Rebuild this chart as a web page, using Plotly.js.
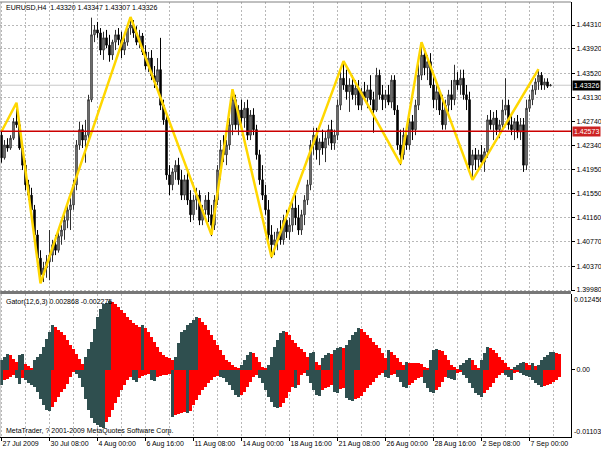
<!DOCTYPE html>
<html><head><meta charset="utf-8">
<script src="https://cdn.plot.ly/plotly-3.0.1.min.js"></script>
<style>html,body{margin:0;padding:0;background:#fff}#chart{width:601px;height:451px}</style>
</head><body><div id="chart"></div><script>
// ---- EURUSD H4 candles (bar 0 = 27 Jul 2009 16:00) ----
const barOpen = [
1.4251,1.4214,1.4235,1.4230,1.4246,1.4273,1.4268,1.4230,1.4202,1.4170,
1.4153,1.4129,1.4088,1.4050,1.4023,1.4034,1.4044,1.4055,1.4072,1.4063,
1.4086,1.4096,1.4112,1.4129,1.4137,1.4170,1.4235,1.4260,1.4243,1.4251,
1.4309,1.4415,1.4423,1.4418,1.4390,1.4410,1.4398,1.4382,1.4403,1.4415,
1.4407,1.4390,1.4403,1.4426,1.4431,1.4418,1.4403,1.4413,1.4387,1.4364,
1.4377,1.4348,1.4338,1.4358,1.4300,1.4276,1.4186,1.4170,1.4191,1.4202,
1.4178,1.4153,1.4178,1.4145,1.4121,1.4145,1.4153,1.4112,1.4129,1.4145,
1.4121,1.4104,1.4145,1.4194,1.4227,1.4219,1.4235,1.4268,1.4309,1.4268,
1.4292,1.4279,1.4295,1.4251,1.4284,1.4260,1.4219,1.4178,1.4153,1.4129,
1.4088,1.4072,1.4080,1.4093,1.4080,1.4112,1.4093,1.4104,1.4132,1.4116,
1.4096,1.4121,1.4145,1.4170,1.4235,1.4251,1.4227,1.4240,1.4230,1.4246,
1.4260,1.4238,1.4251,1.4300,1.4344,1.4333,1.4322,1.4333,1.4317,1.4328,
1.4300,1.4322,1.4312,1.4325,1.4309,1.4292,1.4349,1.4317,1.4309,1.4317,
1.4305,1.4341,1.4292,1.4235,1.4219,1.4251,1.4235,1.4273,1.4260,1.4300,
1.4349,1.4382,1.4361,1.4371,1.4333,1.4309,1.4322,1.4292,1.4268,1.4300,
1.4317,1.4309,1.4341,1.4333,1.4344,1.4317,1.4309,1.4202,1.4219,1.4211,
1.4219,1.4207,1.4224,1.4276,1.4268,1.4279,1.4260,1.4268,1.4292,1.4300,
1.4268,1.4260,1.4273,1.4256,1.4268,1.4202,1.4295,1.4309,1.4325,1.4338,
1.4349,1.4333,1.4338,1.43320];
const barHigh = [
1.4260,1.4243,1.4246,1.4251,1.4279,1.4300,1.4276,1.4235,1.4210,1.4178,
1.4165,1.4137,1.4096,1.4063,1.4044,1.4055,1.4096,1.4080,1.4088,1.4093,
1.4104,1.4121,1.4137,1.4148,1.4178,1.4243,1.4273,1.4268,1.4276,1.4317,
1.4443,1.4431,1.4436,1.4426,1.4420,1.4423,1.4415,1.4407,1.4423,1.4426,
1.4420,1.4410,1.4431,1.4444,1.4439,1.4429,1.4423,1.4418,1.4398,1.4387,
1.4390,1.4364,1.4377,1.4410,1.4309,1.4284,1.4202,1.4197,1.4210,1.4214,
1.4194,1.4186,1.4191,1.4161,1.4153,1.4165,1.4161,1.4137,1.4153,1.4158,
1.4137,1.4153,1.4202,1.4243,1.4251,1.4243,1.4279,1.4325,1.4317,1.4300,
1.4309,1.4305,1.4309,1.4292,1.4295,1.4268,1.4227,1.4202,1.4170,1.4145,
1.4104,1.4093,1.4099,1.4112,1.4121,1.4129,1.4116,1.4145,1.4153,1.4137,
1.4129,1.4153,1.4178,1.4243,1.4263,1.4263,1.4246,1.4260,1.4256,1.4268,
1.4276,1.4260,1.4309,1.4358,1.4371,1.4358,1.4344,1.4349,1.4341,1.4341,
1.4328,1.4338,1.4333,1.4349,1.4322,1.4361,1.4358,1.4333,1.4325,1.4333,
1.4349,1.4349,1.4300,1.4260,1.4263,1.4268,1.4279,1.4284,1.4309,1.4374,
1.4403,1.4393,1.4382,1.4385,1.4354,1.4333,1.4328,1.4317,1.4309,1.4325,
1.4341,1.4366,1.4354,1.4358,1.4358,1.4333,1.4322,1.4227,1.4230,1.4227,
1.4235,1.4230,1.4284,1.4292,1.4289,1.4292,1.4276,1.4309,1.4344,1.4309,
1.4284,1.4279,1.4284,1.4279,1.4279,1.4309,1.4317,1.4333,1.4344,1.4358,
1.4354,1.4344,1.4344,1.43347];
const barLow = [
1.4206,1.4211,1.4224,1.4227,1.4243,1.4263,1.4227,1.4194,1.4161,1.4145,
1.4121,1.4080,1.4039,1.4010,1.4011,1.4018,1.4014,1.4044,1.4055,1.4059,
1.4072,1.4080,1.4099,1.4096,1.4129,1.4161,1.4227,1.4230,1.4206,1.4243,
1.4305,1.4403,1.4410,1.4382,1.4374,1.4393,1.4371,1.4374,1.4390,1.4398,
1.4377,1.4382,1.4397,1.4415,1.4410,1.4398,1.4393,1.4382,1.4358,1.4354,
1.4341,1.4328,1.4333,1.4292,1.4268,1.4178,1.4153,1.4161,1.4178,1.4170,
1.4145,1.4145,1.4137,1.4109,1.4112,1.4129,1.4104,1.4104,1.4121,1.4109,
1.4086,1.4096,1.4137,1.4178,1.4207,1.4202,1.4227,1.4251,1.4260,1.4251,
1.4268,1.4263,1.4243,1.4243,1.4251,1.4211,1.4170,1.4145,1.4121,1.4080,
1.4050,1.4055,1.4063,1.4072,1.4072,1.4083,1.4080,1.4093,1.4104,1.4088,
1.4088,1.4104,1.4137,1.4161,1.4219,1.4211,1.4202,1.4219,1.4207,1.4235,
1.4227,1.4227,1.4243,1.4292,1.4325,1.4309,1.4289,1.4309,1.4300,1.4292,
1.4292,1.4309,1.4295,1.4300,1.4255,1.4289,1.4309,1.4292,1.4295,1.4300,
1.4295,1.4284,1.4227,1.4202,1.4211,1.4227,1.4227,1.4243,1.4251,1.4292,
1.4341,1.4349,1.4341,1.4328,1.4295,1.4292,1.4284,1.4260,1.4260,1.4289,
1.4292,1.4300,1.4325,1.4317,1.4309,1.4292,1.4194,1.4178,1.4194,1.4197,
1.4202,1.4191,1.4214,1.4260,1.4243,1.4251,1.4246,1.4260,1.4284,1.4260,
1.4251,1.4243,1.4246,1.4243,1.4191,1.4194,1.4289,1.4300,1.4317,1.4325,
1.4325,1.4325,1.4328,1.43307];
const barClose = [
1.4214,1.4235,1.4230,1.4246,1.4273,1.4268,1.4230,1.4202,1.4170,1.4153,
1.4129,1.4088,1.4050,1.4023,1.4034,1.4044,1.4055,1.4072,1.4063,1.4086,
1.4096,1.4112,1.4129,1.4137,1.4170,1.4235,1.4260,1.4243,1.4251,1.4309,
1.4415,1.4423,1.4418,1.4390,1.4410,1.4398,1.4382,1.4403,1.4415,1.4407,
1.4390,1.4403,1.4426,1.4431,1.4418,1.4403,1.4413,1.4387,1.4364,1.4377,
1.4348,1.4338,1.4358,1.4300,1.4276,1.4186,1.4170,1.4191,1.4202,1.4178,
1.4153,1.4178,1.4145,1.4121,1.4145,1.4153,1.4112,1.4129,1.4145,1.4121,
1.4104,1.4145,1.4194,1.4227,1.4219,1.4235,1.4268,1.4309,1.4268,1.4292,
1.4279,1.4295,1.4251,1.4284,1.4260,1.4219,1.4178,1.4153,1.4129,1.4088,
1.4072,1.4080,1.4093,1.4080,1.4112,1.4093,1.4104,1.4132,1.4116,1.4096,
1.4121,1.4145,1.4170,1.4235,1.4251,1.4227,1.4240,1.4230,1.4246,1.4260,
1.4238,1.4251,1.4300,1.4344,1.4333,1.4322,1.4333,1.4317,1.4328,1.4300,
1.4322,1.4312,1.4325,1.4309,1.4292,1.4349,1.4317,1.4309,1.4317,1.4305,
1.4341,1.4292,1.4235,1.4219,1.4251,1.4235,1.4273,1.4260,1.4300,1.4349,
1.4382,1.4361,1.4371,1.4333,1.4309,1.4322,1.4292,1.4268,1.4300,1.4317,
1.4309,1.4341,1.4333,1.4344,1.4317,1.4309,1.4202,1.4219,1.4211,1.4219,
1.4207,1.4224,1.4276,1.4268,1.4279,1.4260,1.4268,1.4292,1.4300,1.4268,
1.4260,1.4273,1.4256,1.4268,1.4202,1.4295,1.4309,1.4325,1.4338,1.4349,
1.4333,1.4338,1.4331,1.43326];

// ---- ZigZag vertices (bar index, price) ----
const zigzagBar   = [0, 5, 13, 43, 70, 77, 90, 114, 133, 140, 157, 179];
const zigzagPrice = [1.4257, 1.4304, 1.4009, 1.4444, 1.4088, 1.4326, 1.4052, 1.4372, 1.4204, 1.4403, 1.4178, 1.4359];

// ---- Gator(12,6,3) histograms ----
const gatorUpper = [
0.00164,0.00213,0.00262,0.00246,0.00180,0.00131,0.00246,0.00262,0.00098,0.00066,
0.00033,0.00164,0.00213,0.00262,0.00377,0.00508,0.00623,0.00738,0.00705,0.00656,
0.00623,0.00574,0.00492,0.00410,0.00344,0.00262,0.00180,0.00098,0.00213,0.00344,
0.00459,0.00672,0.00869,0.01000,0.01082,0.01099,0.01132,0.01115,0.01082,0.01033,
0.00984,0.00935,0.00869,0.00820,0.00771,0.00738,0.00705,0.00738,0.00689,0.00623,
0.00541,0.00459,0.00377,0.00295,0.00246,0.00213,0.00197,0.00164,0.00213,0.00443,
0.00623,0.00656,0.00738,0.00771,0.00820,0.00869,0.00853,0.00787,0.00738,0.00656,
0.00574,0.00492,0.00410,0.00328,0.00246,0.00164,0.00131,0.00082,0.00049,0.00033,
0.00082,0.00164,0.00246,0.00295,0.00279,0.00213,0.00131,0.00049,0.00033,0.00082,
0.00213,0.00377,0.00492,0.00607,0.00640,0.00623,0.00574,0.00492,0.00443,0.00377,
0.00344,0.00295,0.00213,0.00279,0.00295,0.00131,0.00082,0.00197,0.00246,0.00279,
0.00262,0.00328,0.00361,0.00377,0.00361,0.00410,0.00492,0.00574,0.00623,0.00689,
0.00672,0.00623,0.00574,0.00525,0.00459,0.00410,0.00361,0.00279,0.00197,0.00328,
0.00295,0.00246,0.00197,0.00131,0.00082,0.00131,0.00115,0.00113,0.00111,0.00108,
0.00098,0.00049,0.00033,0.00164,0.00328,0.00344,0.00328,0.00312,0.00246,0.00164,
0.00082,0.00049,0.00016,0.00082,0.00115,0.00164,0.00197,0.00164,0.00082,0.00033,
0.00164,0.00279,0.00377,0.00361,0.00328,0.00279,0.00213,0.00164,0.00115,0.00049,
0.00016,0.00049,0.00082,0.00115,0.00131,0.00115,0.00082,0.00115,0.00066,0.00082,
0.00164,0.00213,0.00246,0.002868,0.00295,0.00279,0.00262];
const gatorLower = [
-0.00246,-0.00164,-0.00148,-0.00115,-0.00082,-0.00131,-0.00230,-0.00131,-0.00164,-0.00213,
-0.00246,-0.00279,-0.00361,-0.00476,-0.00574,-0.00656,-0.00672,-0.00607,-0.00525,-0.00443,
-0.00361,-0.00312,-0.00230,-0.00115,-0.00033,-0.00066,-0.00131,-0.00279,-0.00476,-0.00656,
-0.00787,-0.00869,-0.00902,-0.00935,-0.00951,-0.00853,-0.00771,-0.00656,-0.00541,-0.00443,
-0.00328,-0.00246,-0.00164,-0.00115,-0.00164,-0.00197,-0.00131,-0.00098,-0.00082,-0.00066,
-0.00164,-0.00180,-0.00115,-0.00098,-0.00082,-0.00080,-0.00066,-0.00771,-0.00738,-0.00722,
-0.00705,-0.00689,-0.00705,-0.00672,-0.00574,-0.00492,-0.00410,-0.00328,-0.00279,-0.00213,
-0.00164,-0.00115,-0.00098,-0.00115,-0.00131,-0.00197,-0.00246,-0.00328,-0.00410,-0.00443,
-0.00410,-0.00361,-0.00279,-0.00197,-0.00115,-0.00082,-0.00131,-0.00213,-0.00328,-0.00443,
-0.00525,-0.00607,-0.00623,-0.00607,-0.00541,-0.00459,-0.00361,-0.00279,-0.00295,-0.00246,
-0.00082,-0.00049,-0.00098,-0.00213,-0.00328,-0.00410,-0.00426,-0.00328,-0.00295,-0.00279,
-0.00246,-0.00361,-0.00377,-0.00312,-0.00295,-0.00459,-0.00492,-0.00508,-0.00476,-0.00459,
-0.00426,-0.00361,-0.00295,-0.00246,-0.00197,-0.00131,-0.00082,-0.00049,-0.00115,-0.00131,
-0.00082,-0.00066,-0.00115,-0.00197,-0.00279,-0.00295,-0.00246,-0.00213,-0.00164,-0.00131,
-0.00115,-0.00213,-0.00295,-0.00361,-0.00377,-0.00328,-0.00279,-0.00197,-0.00115,-0.00131,
-0.00148,-0.00164,-0.00049,-0.00033,-0.00082,-0.00131,-0.00213,-0.00295,-0.00377,-0.00410,
-0.00443,-0.00377,-0.00328,-0.00279,-0.00213,-0.00131,-0.00082,-0.00049,-0.00082,-0.00115,
-0.00164,-0.00049,-0.00033,-0.00049,-0.00082,-0.00098,-0.00115,-0.00164,-0.00213,-0.00246,
-0.00279,-0.00262,-0.00246,-0.002275,-0.00197,-0.00164,-0.00115];

// ---- axis labels ----
const priceTicks = [1.44310,1.43920,1.43520,1.43130,1.42740,1.42340,1.41950,1.41550,1.41160,1.40770,1.40370,1.39980];
const timeLabelBars = [0,16,32,48,64,80,96,112,128,144,160,176];
const timeLabels = ['27 Jul 2009','30 Jul 08:00','4 Aug 00:00','6 Aug 16:00','11 Aug 08:00','14 Aug 00:00','18 Aug 16:00','21 Aug 08:00','26 Aug 00:00','28 Aug 16:00','2 Sep 08:00','7 Sep 00:00'];
const gridBars = [0,8,16,24,32,40,48,56,64,72,80,88,96,104,112,120,128,136,144,152,160,168,176,184];
const midGridBars = [8,24,40,56,72,88,104,120,136,152,168,184];
const levelPrice = 1.42573;
const bidPrice = 1.43326;
const gatorTop = 0.012456, gatorBottom = -0.01103;

const barIdx = barClose.map((_, i) => i);
const gatorIdx = gatorUpper.map((_, i) => i);
const DARK = '#2f4f4f', RED = '#ff0000';
const upColors = gatorUpper.map((v, i) => (i === 0 || Math.abs(v) >= Math.abs(gatorUpper[i-1])) ? DARK : RED);
const loColors = gatorLower.map((v, i) => (i === 0 || Math.abs(v) >= Math.abs(gatorLower[i-1])) ? DARK : RED);

const FONT = {family: '"Liberation Sans", Arial, sans-serif', size: 7, color: '#000'};
const GRID = {showgrid: true, gridcolor: '#b8b8b8', gridwidth: 1, griddash: '2px,2px'};
const XR = [-0.5, 189.83];

const traces = [
  {type: 'candlestick', x: barIdx, open: barOpen, high: barHigh, low: barLow, close: barClose,
   xaxis: 'x', yaxis: 'y', hoverinfo: 'skip', whiskerwidth: 0,
   increasing: {line: {color: '#303030', width: 1}, fillcolor: '#a0a0a0'},
   decreasing: {line: {color: '#000000', width: 1}, fillcolor: '#000000'}},
  {type: 'scatter', mode: 'lines', x: zigzagBar, y: zigzagPrice, xaxis: 'x', yaxis: 'y',
   line: {color: '#ffd700', width: 2.5}, hoverinfo: 'skip'},
  {type: 'bar', x: gatorIdx, y: gatorUpper, xaxis: 'x2', yaxis: 'y2', width: 1,
   marker: {color: upColors, line: {width: 0}}, hoverinfo: 'skip'},
  {type: 'bar', x: gatorIdx, y: gatorLower, xaxis: 'x2', yaxis: 'y2', width: 1,
   marker: {color: loColors, line: {width: 0}}, hoverinfo: 'skip'}
];

const layout = {
  width: 601, height: 451, margin: {l: 0, r: 30, t: 2, b: 14, pad: 0},
  paper_bgcolor: '#fff', plot_bgcolor: '#fff', showlegend: false, font: FONT,
  barmode: 'relative', bargap: 0,
  xaxis: Object.assign({domain: [0, 1], anchor: 'y', range: XR, tickmode: 'array', tickvals: gridBars,
    showticklabels: false, ticks: '', zeroline: false, showline: false, rangeslider: {visible: false}, fixedrange: true}, GRID),
  xaxis2: Object.assign({domain: [0, 1], anchor: 'y2', range: XR, tickmode: 'array', tickvals: timeLabelBars, ticktext: timeLabels,
    ticklabelposition: 'outside right', tickangle: 0, ticks: 'outside', ticklen: 3, tickcolor: '#000', showline: true, linecolor: '#000', linewidth: 1,
    zeroline: false, fixedrange: true, tickfont: FONT,
    minor: {tickmode: 'array', tickvals: midGridBars, showgrid: true, gridcolor: '#b8b8b8', gridwidth: 1, griddash: '2px,2px', ticks: ''}}, GRID),
  yaxis: Object.assign({domain: [0.33563, 1], anchor: 'x', side: 'right', range: [1.399637, 1.446858], tickmode: 'array',
    tickvals: priceTicks, ticktext: priceTicks.map(v => v.toFixed(5)), ticks: 'outside', ticklen: 3, tickcolor: '#000',
    showline: true, linecolor: '#000', linewidth: 1, zeroline: false, fixedrange: true, tickfont: FONT}, GRID),
  yaxis2: {domain: [0, 0.32874], anchor: 'x2', side: 'right', range: [gatorBottom, gatorTop], tickmode: 'array',
    tickvals: [0], ticktext: ['0.00'], ticks: 'outside', ticklen: 3, tickcolor: '#000', showgrid: false,
    showline: true, linecolor: '#000', linewidth: 1, zeroline: false, fixedrange: true, tickfont: FONT},
  shapes: [
    {type: 'line', xref: 'paper', yref: 'y', x0: 0, x1: 1, y0: bidPrice, y1: bidPrice, line: {color: '#c8c8c8', width: 1}, layer: 'below'},
    {type: 'line', xref: 'paper', yref: 'y', x0: 0, x1: 1, y0: levelPrice, y1: levelPrice, line: {color: '#cc0000', width: 1.5}},
    {type: 'rect', xref: 'paper', yref: 'paper', x0: 0, x1: 1, y0: 0.32874, y1: 0.33563, fillcolor: '#777777', line: {width: 0}},
    {type: 'line', xref: 'paper', yref: 'paper', x0: 0, x1: 1, y0: 1, y1: 1, line: {color: '#808080', width: 1}},
    {type: 'line', xref: 'paper', yref: 'paper', x0: 0, x1: 0, y0: 0, y1: 1, line: {color: '#a0a0a0', width: 1}}
  ],
  annotations: [
    {xref: 'paper', yref: 'paper', x: 0, y: 1, xanchor: 'left', yanchor: 'top', xshift: 4, yshift: 0,
     text: 'EURUSD,H4  1.43320 1.43347 1.43307 1.43326', showarrow: false, font: FONT},
    {xref: 'paper', yref: 'paper', x: 0, y: 0.3241, xanchor: 'left', yanchor: 'top', xshift: 4,
     text: 'Gator(12,6,3) 0.002868 -0.002275', showarrow: false, font: FONT},
    {xref: 'paper', yref: 'paper', x: 0, y: 0, xanchor: 'left', yanchor: 'bottom', xshift: 4, yshift: 0,
     text: 'MetaTrader, ? 2001-2009 MetaQuotes Software Corp.', showarrow: false, font: FONT},
    {xref: 'paper', yref: 'y', x: 1, y: bidPrice, xanchor: 'left', yanchor: 'middle', xshift: 1,
     text: bidPrice.toFixed(5), showarrow: false, bgcolor: '#000', borderpad: 1, font: Object.assign({}, FONT, {color: '#fff'})},
    {xref: 'paper', yref: 'y', x: 1, y: levelPrice, xanchor: 'left', yanchor: 'middle', xshift: 1,
     text: levelPrice.toFixed(5), showarrow: false, bgcolor: '#cc2222', borderpad: 1, font: Object.assign({}, FONT, {color: '#fff'})},
    {xref: 'paper', yref: 'y2', x: 1, y: gatorTop, xanchor: 'left', yanchor: 'top', xshift: 1,
     text: gatorTop.toFixed(6), showarrow: false, font: FONT},
    {xref: 'paper', yref: 'y2', x: 1, y: gatorBottom, xanchor: 'left', yanchor: 'bottom', xshift: 1,
     text: gatorBottom.toFixed(5), showarrow: false, font: FONT}
  ]
};

Plotly.newPlot('chart', traces, layout, {staticPlot: true, displayModeBar: false});
</script></body></html>
